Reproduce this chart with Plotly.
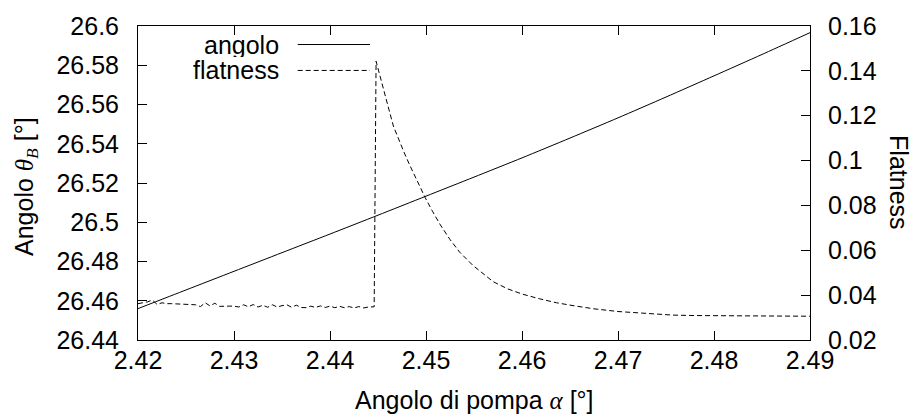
import plotly.graph_objects as go

# ---- data ----
angolo_x = [2.420, 2.425, 2.430, 2.435, 2.440, 2.445, 2.450, 2.455,
            2.460, 2.465, 2.470, 2.475, 2.480, 2.485, 2.490]
angolo_y = [26.4560, 26.4655, 26.4750, 26.4845, 26.4940, 26.5036, 26.5133, 26.5230,
            26.5328, 26.5429, 26.5532, 26.5638, 26.5746, 26.5855, 26.5966]

flat_x = [2.4200, 2.4205, 2.4210, 2.4215, 2.4220, 2.4225, 2.4230, 2.4235, 2.4240, 2.4245,
          2.4250, 2.4255, 2.4260, 2.4265, 2.4270, 2.4275, 2.4280, 2.4285, 2.4290, 2.4295,
          2.4300, 2.4305, 2.4310, 2.4315, 2.4320, 2.4325, 2.4330, 2.4335, 2.4340, 2.4345,
          2.4350, 2.4355, 2.4360, 2.4365, 2.4370, 2.4375, 2.4380, 2.4385, 2.4390, 2.4395,
          2.4400, 2.4405, 2.4410, 2.4415, 2.4420, 2.4425, 2.4430, 2.4435, 2.4440, 2.4446,
          2.4448, 2.4452, 2.4456, 2.4460, 2.4466, 2.4470, 2.4477, 2.4483, 2.4490, 2.4499,
          2.4507, 2.4515, 2.4525, 2.4535, 2.4549, 2.4560, 2.4570, 2.4585, 2.4600, 2.4618,
          2.4636, 2.4655, 2.4675, 2.4700, 2.4730, 2.4757, 2.4780, 2.4800, 2.4830, 2.4860,
          2.4900]
flat_y = [0.0362, 0.0366, 0.0370, 0.0378, 0.0358, 0.0366, 0.0362, 0.0362, 0.0361, 0.0361,
          0.0359, 0.0358, 0.0357, 0.0349, 0.0366, 0.0352, 0.0364, 0.0350, 0.0352, 0.0351,
          0.0351, 0.0347, 0.0357, 0.0348, 0.0358, 0.0347, 0.0355, 0.0346, 0.0357, 0.0347,
          0.0353, 0.0357, 0.0346, 0.0355, 0.0345, 0.0344, 0.0351, 0.0345, 0.0352, 0.0345,
          0.0351, 0.0344, 0.0350, 0.0344, 0.0349, 0.0343, 0.0349, 0.0343, 0.0347, 0.0348,
          0.1443, 0.1375, 0.1312, 0.1250, 0.1154, 0.1110, 0.1038, 0.0980, 0.0915, 0.0836,
          0.0772, 0.0713, 0.0648, 0.0592, 0.0532, 0.0492, 0.0460, 0.0428, 0.0405, 0.0384,
          0.0366, 0.0352, 0.0339, 0.0327, 0.0317, 0.0311, 0.0309, 0.0308, 0.0307, 0.0306,
          0.0306]

x_ticks = [2.42, 2.43, 2.44, 2.45, 2.46, 2.47, 2.48, 2.49]
y_ticks = [26.44, 26.46, 26.48, 26.5, 26.52, 26.54, 26.56, 26.58, 26.6]
y2_ticks = [0.02, 0.04, 0.06, 0.08, 0.1, 0.12, 0.14, 0.16]

FONT = "Liberation Sans, Arial, Helvetica, sans-serif"
FS = 25

fig = go.Figure()
fig.add_trace(go.Scatter(x=angolo_x, y=angolo_y, mode="lines", name="angolo",
                         line=dict(color="black", width=1, shape="spline", smoothing=0.6),
                         showlegend=False))
fig.add_trace(go.Scatter(x=flat_x, y=flat_y, mode="lines", name="flatness", yaxis="y2",
                         line=dict(color="black", width=1, dash="5px,3px"), showlegend=False))

axis_common = dict(showgrid=False, zeroline=False, showline=True, linecolor="black",
                   linewidth=1, ticks="inside", ticklen=9, tickwidth=1, tickcolor="black",
                   tickfont=dict(family=FONT, size=FS, color="black"))

fig.update_layout(
    width=916, height=418,
    margin=dict(l=138, r=106, t=17, b=78),
    paper_bgcolor="white", plot_bgcolor="white",
    xaxis=dict(range=[2.42, 2.49], tickvals=x_ticks,
               ticktext=[f"{v:g}" for v in x_ticks], mirror="ticks",
               ticklabelstandoff=-2, **axis_common),
    yaxis=dict(range=[26.44, 26.6], tickvals=y_ticks,
               ticktext=[f"{v:g}" for v in y_ticks], ticklabelstandoff=13,
               **axis_common),
    yaxis2=dict(range=[0.02, 0.16], tickvals=y2_ticks,
                ticktext=[f"{v:g}" for v in y2_ticks], overlaying="y", side="right",
                ticklabelstandoff=12, **axis_common),
)

sym = "font-family:'Liberation Serif', 'DejaVu Serif', serif"
ann_font = dict(family=FONT, size=FS, color="black")
fig.add_annotation(text=f"Angolo di pompa <span style=\"{sym}\"><i>α</i></span> [°]",
                   xref="paper", yref="paper", x=0.5, y=-0.192, xanchor="center",
                   yanchor="middle", showarrow=False, font=ann_font)
fig.add_annotation(text=f"Angolo <span style=\"{sym}\"><i>θ</i><sub><i>B</i></sub></span> [°]",
                   xref="paper", yref="paper", x=(26.5 - 138) / 672, y=0.489,
                   xanchor="center", yanchor="middle", textangle=-90,
                   showarrow=False, font=ann_font)
fig.add_annotation(text="Flatness", xref="paper", yref="paper", x=(899 - 138) / 672,
                   y=0.503, xanchor="center", yanchor="middle", textangle=90,
                   showarrow=False, font=ann_font)

# legend (text left of sample line, gnuplot style)
leg = [("angolo", 0.941, "solid"), ("flatness", 0.8585, "5px,3px")]
for name, yy, dash in leg:
    fig.add_annotation(text=name, xref="paper", yref="paper", x=(281 - 138) / 672, y=yy,
                       xanchor="right", yanchor="middle", showarrow=False, font=ann_font,
                       height=24)
    fig.add_shape(type="line", xref="paper", yref="paper",
                  x0=(297.7 - 138) / 672, x1=(370 - 138) / 672, y0=yy, y1=yy,
                  line=dict(color="black", width=1, dash=dash))

fig.write_html("out.html")
